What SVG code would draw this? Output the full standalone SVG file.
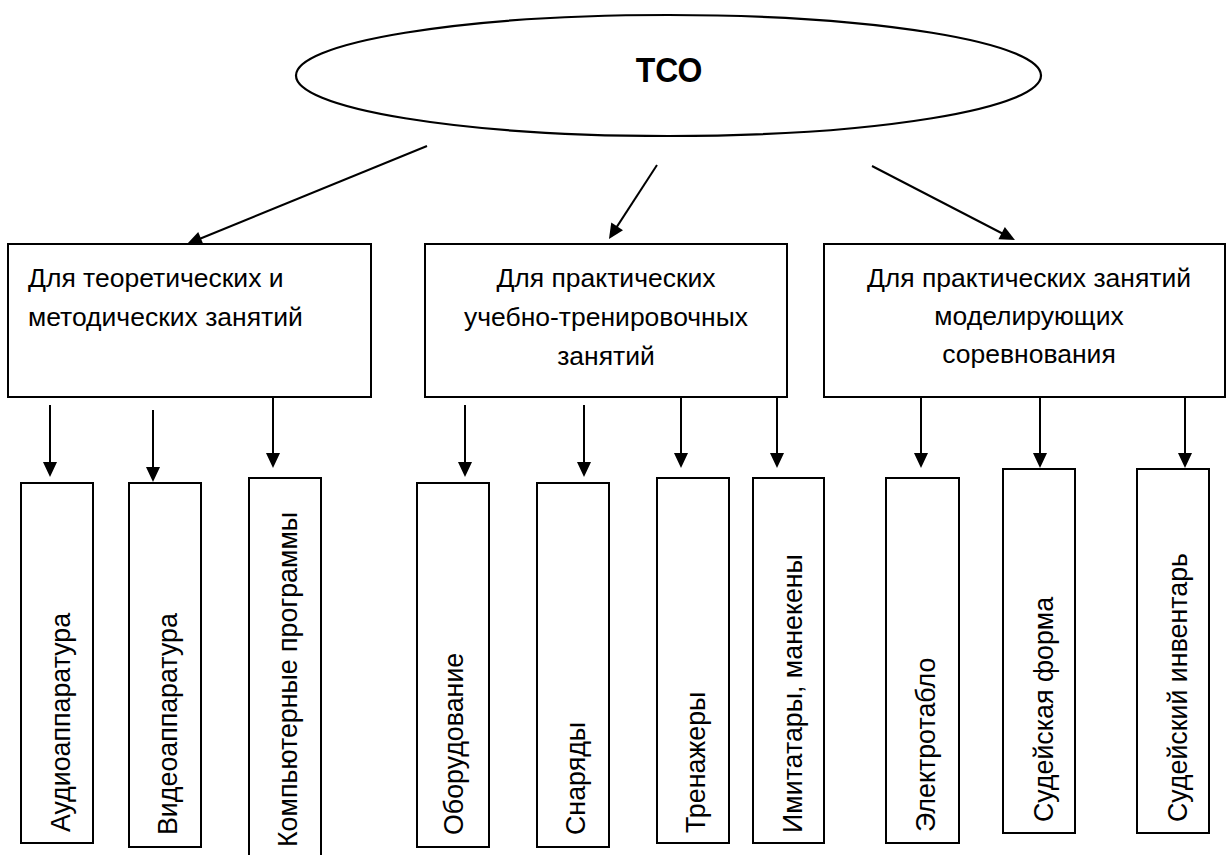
<svg xmlns="http://www.w3.org/2000/svg" width="1227" height="855" viewBox="0 0 1227 855">
<style>
.box{fill:#fff;stroke:#000;stroke-width:2}
.t{font-family:"Liberation Sans",Arial,sans-serif;font-size:26.5px;fill:#000}
.tc{text-anchor:middle}
.v{font-family:"Liberation Sans",Arial,sans-serif;font-size:26.8px;fill:#000}
.ln{stroke:#000;stroke-width:2;fill:none;marker-end:url(#ah)}
</style>
<defs>
<marker id="ah" markerUnits="userSpaceOnUse" markerWidth="15" markerHeight="14" refX="3" refY="7" orient="auto" overflow="visible">
<path d="M0,0 L15,7 L0,14 z" fill="#000"/>
</marker>
</defs>
<rect width="1227" height="855" fill="#fff"/>
<g id="connectors">
<line class="ln" x1="427" y1="146" x2="198.1" y2="239.5"/>
<line class="ln" x1="657" y1="165" x2="615.5" y2="228.9"/>
<line class="ln" x1="872" y1="166" x2="1004.3" y2="234.5"/>
<line class="ln" x1="50" y1="405" x2="50" y2="465"/>
<line class="ln" x1="153" y1="410" x2="153" y2="470"/>
<line class="ln" x1="273" y1="397" x2="273" y2="456"/>
<line class="ln" x1="465" y1="405" x2="465" y2="465"/>
<line class="ln" x1="584" y1="405" x2="584" y2="465"/>
<line class="ln" x1="681" y1="397" x2="681" y2="456"/>
<line class="ln" x1="777" y1="397" x2="777" y2="456"/>
<line class="ln" x1="921" y1="397" x2="921" y2="456"/>
<line class="ln" x1="1040" y1="397" x2="1040" y2="456"/>
<line class="ln" x1="1185" y1="397" x2="1185" y2="456"/>
</g>
<g id="tco">
<ellipse cx="668.5" cy="75.5" rx="372.5" ry="60.5" fill="#fff" stroke="#000" stroke-width="2.2"/>
<text transform="translate(669,82) scale(1,1.12)" text-anchor="middle" font-family="Liberation Sans,Arial,sans-serif" font-weight="bold" font-size="32">ТСО</text>
</g>
<g id="theory">
<rect class="box" x="8" y="244" width="363" height="153"/>
<text class="t" x="28" y="287">Для теоретических и</text>
<text class="t" x="28" y="326">методических занятий</text>
</g>
<g id="practice">
<rect class="box" x="425" y="244" width="362" height="153"/>
<text class="t tc" x="606" y="287">Для практических</text>
<text class="t tc" x="606" y="326">учебно-тренировочных</text>
<text class="t tc" x="606" y="365">занятий</text>
</g>
<g id="competition">
<rect class="box" x="824" y="244" width="401" height="153"/>
<text class="t tc" x="1029" y="287">Для практических занятий</text>
<text class="t tc" x="1029" y="325">моделирующих</text>
<text class="t tc" x="1029" y="363">соревнования</text>
</g>
<g id="audio">
<rect class="box" x="21" y="483" width="72" height="360"/>
<text class="v" transform="translate(70,832) rotate(-90)">Аудиоаппаратура</text>
</g>
<g id="video">
<rect class="box" x="129" y="483" width="72" height="364"/>
<text class="v" transform="translate(177,835) rotate(-90)">Видеоаппаратура</text>
</g>
<g id="software">
<rect class="box" x="249" y="478" width="72" height="392"/>
<text class="v" transform="translate(297,847) rotate(-90)">Компьютерные программы</text>
</g>
<g id="equipment">
<rect class="box" x="417" y="483" width="72" height="364"/>
<text class="v" transform="translate(463,835) rotate(-90)">Оборудование</text>
</g>
<g id="apparatus">
<rect class="box" x="537" y="483" width="72" height="364"/>
<text class="v" transform="translate(585,835) rotate(-90)">Снаряды</text>
</g>
<g id="trainers">
<rect class="box" x="657" y="478" width="72" height="365"/>
<text class="v" transform="translate(705,833) rotate(-90)">Тренажеры</text>
</g>
<g id="simulators">
<rect class="box" x="753" y="478" width="71" height="365"/>
<text class="v" transform="translate(802,833) rotate(-90)">Имитатары, манекены</text>
</g>
<g id="scoreboard">
<rect class="box" x="886" y="478" width="73" height="365"/>
<text class="v" transform="translate(935,832) rotate(-90)">Электротабло</text>
</g>
<g id="uniform">
<rect class="box" x="1003" y="469" width="72" height="364"/>
<text class="v" transform="translate(1053,822) rotate(-90)">Судейская форма</text>
</g>
<g id="inventory">
<rect class="box" x="1137" y="469" width="72" height="364"/>
<text class="v" transform="translate(1187,822) rotate(-90)">Судейский инвентарь</text>
</g>
</svg>
